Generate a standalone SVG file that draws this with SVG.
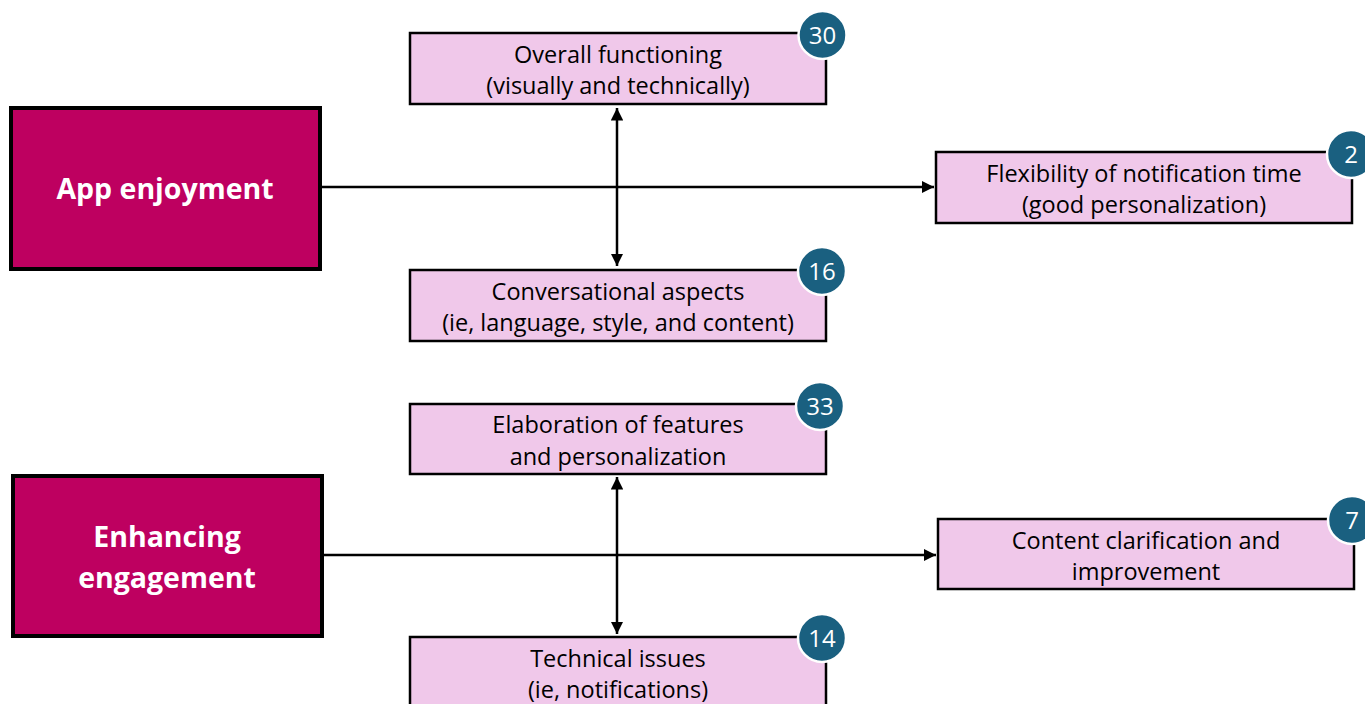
<svg xmlns="http://www.w3.org/2000/svg" width="1365" height="704" viewBox="0 0 1365 704">
<defs>
<marker id="ah" viewBox="0 0 10 10" refX="10" refY="5" markerWidth="5" markerHeight="5" orient="auto-start-reverse" markerUnits="strokeWidth">
<path d="M0,0 L10,5 L0,10 z" fill="#000"/>
</marker>
<style>
.main{fill:#BE0060;stroke:#000;stroke-width:4}
.sub{fill:#F0C8EA;stroke:#000;stroke-width:2.5}
.mt{font-family:"Open Sans",Lato,sans-serif;font-weight:bold;font-size:28.5px;fill:#fff;text-anchor:middle}
.st{font-family:"Open Sans",Lato,sans-serif;font-size:23.5px;fill:#000;text-anchor:middle}
.bc{fill:#1A6080;stroke:#fff;stroke-width:2.5}
.bt{font-family:"Open Sans",Lato,sans-serif;font-size:24px;fill:#fff;text-anchor:middle}
.ln{stroke:#000;stroke-width:2.5;fill:none}
</style>
</defs>
<rect width="1365" height="704" fill="#fff"/>
<g id="connectors">
<line class="ln" x1="321" y1="187" x2="934" y2="187" marker-end="url(#ah)"/>
<line class="ln" x1="617" y1="108" x2="617" y2="266" marker-start="url(#ah)" marker-end="url(#ah)"/>
<line class="ln" x1="323" y1="555" x2="936" y2="555" marker-end="url(#ah)"/>
<line class="ln" x1="617" y1="477" x2="617" y2="634" marker-start="url(#ah)" marker-end="url(#ah)"/>
</g>
<g id="app-enjoyment">
<rect class="main" x="11" y="108" width="309" height="161"/>
<text class="mt" x="165" y="199">App enjoyment</text>
</g>
<g id="overall-functioning">
<rect class="sub" x="410" y="33" width="416" height="71"/>
<text class="st" x="618" y="63">Overall functioning</text>
<text class="st" x="618" y="94">(visually and technically)</text>
<circle class="bc" cx="822.5" cy="35" r="24"/>
<text class="bt" x="822.5" y="44">30</text>
</g>
<g id="flexibility">
<rect class="sub" x="936" y="152" width="416" height="71"/>
<text class="st" x="1144" y="182">Flexibility of notification time</text>
<text class="st" x="1144" y="213">(good personalization)</text>
<circle class="bc" cx="1351" cy="154" r="24"/>
<text class="bt" x="1351" y="163">2</text>
</g>
<g id="conversational">
<rect class="sub" x="410" y="270" width="416" height="71"/>
<text class="st" x="618" y="300">Conversational aspects</text>
<text class="st" x="618" y="331">(ie, language, style, and content)</text>
<circle class="bc" cx="822" cy="271" r="24"/>
<text class="bt" x="822" y="280">16</text>
</g>
<g id="enhancing-engagement">
<rect class="main" x="13" y="476" width="309" height="160"/>
<text class="mt" x="167" y="547">Enhancing</text>
<text class="mt" x="167" y="588">engagement</text>
</g>
<g id="elaboration">
<rect class="sub" x="410" y="404" width="416" height="70"/>
<text class="st" x="618" y="433">Elaboration of features</text>
<text class="st" x="618" y="465">and personalization</text>
<circle class="bc" cx="820" cy="406" r="24"/>
<text class="bt" x="820" y="415">33</text>
</g>
<g id="content-clarification">
<rect class="sub" x="938" y="519" width="416" height="70"/>
<text class="st" x="1146" y="549">Content clarification and</text>
<text class="st" x="1146" y="580">improvement</text>
<circle class="bc" cx="1352" cy="520" r="24"/>
<text class="bt" x="1352" y="529">7</text>
</g>
<g id="technical-issues">
<rect class="sub" x="410" y="637" width="416" height="80"/>
<text class="st" x="618" y="667">Technical issues</text>
<text class="st" x="618" y="698">(ie, notifications)</text>
<circle class="bc" cx="822" cy="638" r="24"/>
<text class="bt" x="822" y="647">14</text>
</g>
</svg>
